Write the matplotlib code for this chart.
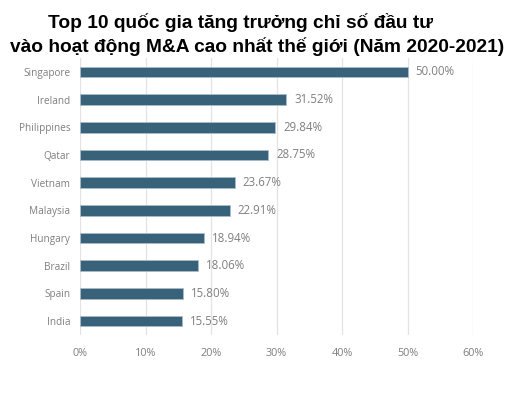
import matplotlib
matplotlib.use("Agg")
import matplotlib.pyplot as plt
from matplotlib.ticker import FuncFormatter

# Dữ liệu
quoc_gia = ["Singapore", "Ireland", "Philippines", "Qatar", "Vietnam",
            "Malaysia", "Hungary", "Brazil", "Spain", "India"]
tang_truong = [50.00, 31.52, 29.84, 28.75, 23.67, 22.91, 18.94, 18.06, 15.80, 15.55]
xticks = [0, 10, 20, 30, 40, 50, 60]

mau_cot = "#37627A"
mau_chu = "#7F7F7F"

fig = plt.figure(figsize=(5.15, 4.01), dpi=100)
ax = fig.add_axes([80 / 515, 1 - 335 / 401, 393 / 515, 277 / 401])

y = list(range(len(quoc_gia)))
ax.barh(y, tang_truong, height=0.38, color=mau_cot, edgecolor="#A9BCC8", linewidth=0.6, zorder=3)

for yi, v in zip(y, tang_truong):
    ax.text(v + 1.2, yi, f"{v:.2f}%", va="center", ha="left",
            fontsize=8.3, color=mau_chu, family="Open Sans")

ax.set_yticks(y)
ax.set_yticklabels(quoc_gia, fontsize=7.2, color=mau_chu, family="Open Sans")
ax.set_ylim(len(quoc_gia) - 0.5, -0.5)

ax.set_xlim(0, 60)
ax.set_xticks(xticks)
ax.xaxis.set_major_formatter(FuncFormatter(lambda v, p: f"{v:.0f}%"))
for lab in ax.get_xticklabels():
    lab.set_fontsize(7.8)
    lab.set_color(mau_chu)
    lab.set_family("Open Sans")

ax.tick_params(axis="x", length=0, pad=9)
ax.tick_params(axis="y", length=0, pad=7)
ax.grid(axis="x", color="#E3E3E3", linewidth=0.9, zorder=0)
for s in ax.spines.values():
    s.set_visible(False)

fig.text(0.467, 0.968, "Top 10 quốc gia tăng trưởng chỉ số đầu tư",
         ha="center", va="top", fontsize=13.8, fontweight="bold", family="Liberation Sans")
fig.text(0.5, 0.908, "vào hoạt động M&A cao nhất thế giới (Năm 2020-2021)",
         ha="center", va="top", fontsize=13.8, fontweight="bold", family="Liberation Sans")

fig.savefig("out.png", dpi=100)
